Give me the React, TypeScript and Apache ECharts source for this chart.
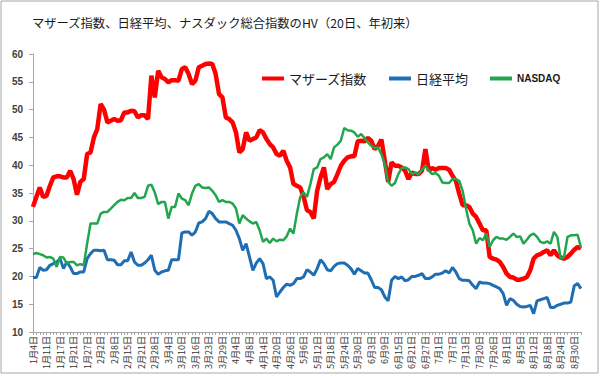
import React, { useEffect, useRef } from "react";
import * as echarts from "echarts";

const titleText = "マザーズ指数、日経平均、ナスダック総合指数のHV（20日、年初来）";

const categories = [
  "1月4日","1月5日","1月6日","1月7日","1月11日","1月12日","1月13日","1月14日","1月17日","1月18日","1月19日","1月20日","1月21日","1月24日","1月25日","1月26日","1月27日","1月28日","1月31日",
  "2月1日","2月2日","2月3日","2月4日","2月7日","2月8日","2月9日","2月10日","2月14日","2月15日","2月16日","2月17日","2月18日","2月21日","2月22日","2月24日","2月25日","2月28日",
  "3月1日","3月2日","3月3日","3月4日","3月7日","3月8日","3月9日","3月10日","3月11日","3月14日","3月15日","3月16日","3月17日","3月18日","3月22日","3月23日","3月24日","3月25日","3月28日","3月29日","3月30日","3月31日",
  "4月1日","4月4日","4月5日","4月6日","4月7日","4月8日","4月11日","4月12日","4月13日","4月14日","4月15日","4月18日","4月19日","4月20日","4月21日","4月22日","4月25日","4月26日","4月27日","4月28日",
  "5月2日","5月6日","5月9日","5月10日","5月11日","5月12日","5月13日","5月16日","5月17日","5月18日","5月19日","5月20日","5月23日","5月24日","5月25日","5月26日","5月27日","5月30日","5月31日",
  "6月1日","6月2日","6月3日","6月6日","6月7日","6月8日","6月9日","6月10日","6月13日","6月14日","6月15日","6月16日","6月17日","6月20日","6月21日","6月22日","6月23日","6月24日","6月27日","6月28日","6月29日","6月30日",
  "7月1日","7月4日","7月5日","7月6日","7月7日","7月8日","7月11日","7月12日","7月13日","7月14日","7月15日","7月19日","7月20日","7月21日","7月22日","7月25日","7月26日","7月27日","7月28日","7月29日",
  "8月1日","8月2日","8月3日","8月4日","8月5日","8月8日","8月9日","8月10日","8月12日","8月15日","8月16日","8月17日","8月18日","8月19日","8月22日","8月23日","8月24日","8月25日","8月26日","8月29日","8月30日","8月31日",
  "9月1日",
];

const seriesNames = ["マザーズ指数", "日経平均", "NASDAQ"];

const mothers = [
  32.5, 34.3, 36, 34.3, 34.5, 36.3, 37.8, 38, 38, 37.8,
  37.8, 39, 37.5, 34.7, 37, 37.5, 42, 42.3, 45, 46.5,
  51, 50, 47.7, 48, 48.3, 48, 48.1, 49.5, 49.5, 49.8,
  49.7, 48.6, 49, 49, 48.3, 56.1, 52.2, 57, 55.8, 55.5,
  54.9, 55.3, 55.3, 55.2, 57.3, 57.6, 56.4, 54.6, 55.2, 57.6,
  57.9, 58.2, 58.3, 58.2,
  56.4, 52.8, 52.2, 48.6, 48.3, 47.7, 45.9, 42.3, 42.9, 45.9,
  44.4, 44.7, 45, 46.3, 45.9, 44.7, 43.8, 43.2, 42, 41.7,
  42.6, 40.8, 39.6, 36.6, 36.3, 36, 34.3, 31.9, 31.6, 30.4,
  35.4, 37.8, 39.6, 35.7, 36.6, 37, 38.4, 39.9, 40.8, 41.4,
  41.6, 41.6, 44.3, 44.4, 44.3, 44.9, 44.4, 42.9, 43.5, 44.6,
  40.8, 37, 40.5, 39.9,
  39.9, 39.6, 39, 37.5, 38.7, 38.4, 38.4, 39, 42.9, 39,
  39.5, 39.2, 39.5, 39.5, 39.5, 39.2, 38.1, 37.2, 34.9, 32.8,
  32.8, 32.5, 31.3, 30.7, 29.5, 28.3, 28.3, 23.5, 23.2, 23,
  22.6, 21.7, 20.5, 19.9, 19.8, 19.4, 19.4, 19.6, 19.9, 21.1,
  23.2, 23.8, 24, 24.4, 24.7, 23.8, 24.7, 23.8, 23.4, 23.2,
  23.5, 24.1, 24.8, 25.3, 25.0,
];

const nikkei = [
  19.8, 19.8, 21.6, 21.1, 21.2, 22, 22.3, 22.6, 23.2, 21.4,
  22.6, 21.7, 20.5, 20.5, 20.8, 20.8, 23.2, 24.1, 24.7, 24.7,
  24.6, 24.7, 23, 23, 22.9, 22.1, 22.1, 22.8, 22.8, 24.4,
  22.6, 22, 22, 22.4, 23, 23.8, 21.1, 20.4, 20.8, 21,
  21.1, 23, 23, 23, 27.8, 28, 28, 27.4, 28, 29.6,
  29.8, 30.4, 31.7, 31.3,
  30.4, 29.8, 29.8, 29.8, 29.5, 29.2, 28.3, 26.8, 24.7, 25.9,
  23.5, 21.1, 22.4, 23.2, 22.3, 19.6, 19.9, 19.3, 16.3, 17.2,
  18, 18.6, 18.4, 18.7, 19.6, 19.6, 19.9, 21.2, 20.8, 20.2,
  21.4, 23, 22.3, 21.2, 21, 21.8, 22.3, 22.4, 22.4, 22,
  21.4, 20.4, 21.4, 21, 20.6, 20.6, 19.4, 18, 18, 17.6,
  16.3, 15.6, 19.3, 20,
  19.6, 19.9, 19.2, 19.4, 20, 20, 20.2, 20.5, 19.6, 19.6,
  19.9, 20.4, 20.4, 20.6, 21, 20.6, 21.6, 20.8, 19.6, 19.3,
  19.3, 19.2, 18.4, 17.8, 19, 18.8, 18.8, 18.7, 18.4, 18.1,
  17.8, 16.9, 14.8, 16, 15.7, 15, 14.6, 14.5, 14.6, 14.8,
  13.3, 15.6, 15.8, 16, 16.2, 14.4, 14.4, 14.8, 15, 15.2,
  15.2, 15.4, 18.3, 18.7, 17.8,
];

const nasdaq = [
  24, 24.2, 24, 23.8, 23.4, 23.5, 23.2, 21.7, 23.5, 23.4,
  22.3, 22.6, 22.6, 22, 22.2, 22, 25.9, 29.5, 29.5, 29.5,
  31.3, 31.6, 31.6, 32.2, 32.8, 33.4, 33.8, 33.7, 34.1, 34.1,
  35, 34.1, 34.1, 34.3, 36.3, 36.5, 35.1, 33, 33.4, 33.4,
  30.4, 32.5, 32.5, 34.9, 34, 33.7, 32.8, 34.9, 36.3, 36.6,
  36, 35.9, 36, 35.4,
  34.6, 33.4, 33.7, 33.4, 33.4, 33.1, 32.2, 29.5, 31, 30.4,
  29.9, 29.5, 29.8, 28.3, 26.2, 26.8, 26, 26.8, 26.3, 26.6,
  26.5, 27.2, 28.6, 27.7, 31.3, 34.3, 35.1, 34.3, 36.6, 39.3,
  39.6, 41.1, 41.4, 42, 41.1, 43.2, 43.7, 44.4, 46.7, 46.3,
  46.2, 45.9, 45.1, 45.6, 44.9, 44.1, 43.5, 43.1, 43.2, 42,
  40.2, 37, 36.3, 36.8,
  38.4, 39.5, 39.6, 39.3, 38.4, 38.7, 38.3, 39.2, 39.9, 39,
  38.4, 38.6, 38.1, 36.9, 36.8, 36.8, 37.5, 37.5, 37.2, 35.4,
  32.2, 29.5, 28.3, 25.9, 26.9, 26.5, 27.7, 25.3, 26.5, 27.1,
  26.8, 26.8, 26.6, 27.1, 27.7, 27.1, 27.2, 25.9, 26.6, 27.4,
  27.7, 27.1, 26.2, 26, 26.3, 25.9, 28, 27.1, 23.2, 23.5,
  27.1, 27.4, 27.4, 27.5, 25.2,
];

const yMin = 10;
const yMax = 60;
const yStep = 5;

const JP_FONT = '"Noto Sans CJK JP", "Noto Sans", sans-serif';
const AXIS_GRAY = "#a6a6a6";

export default function App() {
  const ref = useRef<HTMLDivElement | null>(null);

  useEffect(() => {
    if (!ref.current) return;
    const chart = echarts.init(ref.current, null, { renderer: "svg" });
    chart.setOption({
      animation: false,
      backgroundColor: "#ffffff",
      title: {
        text: titleText,
        left: 27,
        top: 12,
        textStyle: {
          fontSize: 12.3,
          fontWeight: "normal",
          color: "#1a1a1a",
          fontFamily: JP_FONT,
        },
      },
      legend: {
        data: seriesNames,
        left: 257,
        top: 67,
        icon: "rect",
        itemWidth: 22,
        itemHeight: 4,
        itemGap: 22,
        formatter: (name: string) => (name === "NASDAQ" ? `{b|${name}}` : name),
        textStyle: {
          fontSize: 13,
          color: "#1a1a1a",
          fontFamily: JP_FONT,
          rich: {
            b: {
              fontSize: 10,
              fontWeight: "bold",
              color: "#1a1a1a",
              fontFamily: '"Liberation Sans", Arial, sans-serif',
            },
          },
        },
      },
      grid: { left: 33, right: 19, top: 54, bottom: 44, containLabel: false },
      xAxis: {
        type: "category",
        data: categories,
        boundaryGap: false,
        axisLine: { lineStyle: { color: AXIS_GRAY, width: 1 } },
        axisTick: { interval: 0, length: 3, lineStyle: { color: AXIS_GRAY } },
        axisLabel: {
          interval: 3,
          rotate: 90,
          fontSize: 9,
          color: "#333333",
          margin: 4,
          fontFamily: JP_FONT,
        },
        splitLine: { show: false },
      },
      yAxis: {
        type: "value",
        min: yMin,
        max: yMax,
        interval: yStep,
        axisLine: { show: true, lineStyle: { color: AXIS_GRAY, width: 1 } },
        axisTick: { show: true, length: 4, lineStyle: { color: AXIS_GRAY } },
        axisLabel: {
          fontSize: 10,
          fontWeight: "bold",
          color: "#404040",
          margin: 10,
          fontFamily: '"Liberation Sans", Arial, sans-serif',
        },
        splitLine: { show: false },
      },
      graphic: [
        {
          type: "rect",
          shape: { x: 1, y: 1, width: 597, height: 372 },
          style: { fill: "none", stroke: "#a6a6a6", lineWidth: 1 },
          silent: true,
          z: 100,
        },
      ],
      series: [
        {
          name: seriesNames[0],
          type: "line",
          data: mothers,
          symbol: "none",
          itemStyle: { color: "#ff0000" },
          lineStyle: { color: "#ff0000", width: 4.5 },
        },
        {
          name: seriesNames[1],
          type: "line",
          data: nikkei,
          symbol: "none",
          itemStyle: { color: "#1f6eb4" },
          lineStyle: { color: "#1f6eb4", width: 3 },
        },
        {
          name: seriesNames[2],
          type: "line",
          data: nasdaq,
          symbol: "none",
          itemStyle: { color: "#21a64e" },
          lineStyle: { color: "#21a64e", width: 2.5 },
        },
      ],
    });
    return () => {
      chart.dispose();
    };
  }, []);

  return (
    <div
      ref={ref}
      style={{ position: "absolute", left: 0, top: 0, width: 600, height: 376 }}
    />
  );
}
